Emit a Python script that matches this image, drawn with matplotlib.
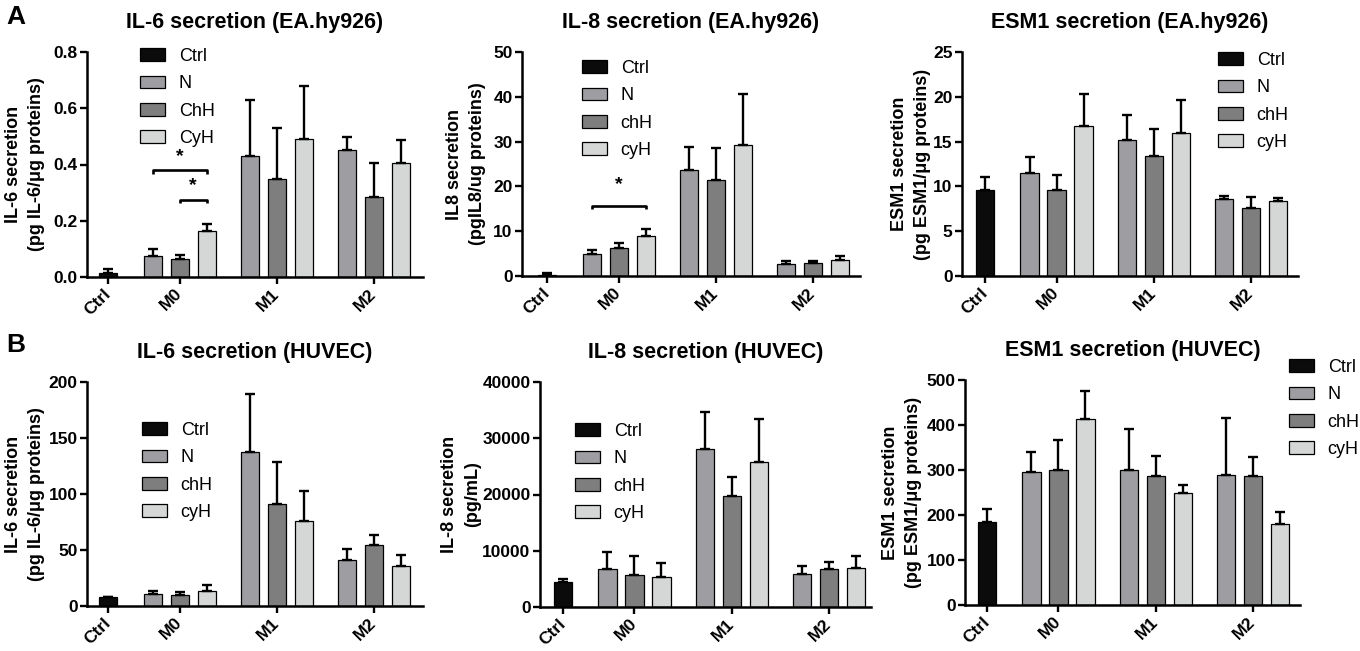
import numpy as np
import matplotlib
matplotlib.use("Agg")
import matplotlib.pyplot as plt
from matplotlib.patches import Patch

plt.rcParams["font.family"] = ["Liberation Sans", "DejaVu Sans"]
plt.rcParams["font.weight"] = "bold"

GROUPS = ["Ctrl", "M0", "M1", "M2"]
COLORS = ["#0b0b0b", "#9e9ea2", "#7e7e7e", "#d5d6d6"]

# order: Ctrl, then N / chH / cyH for M0, M1, M2
il6_ea_mean = [0.015, 0.076, 0.063, 0.162, 0.429, 0.348, 0.492, 0.450, 0.284, 0.405]
il6_ea_err = [0.012, 0.024, 0.014, 0.028, 0.200, 0.182, 0.186, 0.049, 0.120, 0.083]

il8_ea_mean = [0.3, 4.8, 6.2, 8.9, 23.6, 21.4, 29.2, 2.6, 2.8, 3.6]
il8_ea_err = [0.3, 1.1, 1.1, 1.6, 5.2, 7.1, 11.5, 0.7, 0.6, 0.9]

esm1_ea_mean = [9.6, 11.5, 9.6, 16.7, 15.2, 13.4, 16.0, 8.6, 7.6, 8.4]
esm1_ea_err = [1.5, 1.8, 1.65, 3.6, 2.8, 3.0, 3.6, 0.3, 1.2, 0.3]

il6_hu_mean = [7.7, 10.4, 9.5, 13.7, 137.6, 91.2, 75.5, 40.7, 54.4, 35.7]
il6_hu_err = [0.6, 3.3, 3.3, 5.3, 52.0, 37.0, 27.0, 10.0, 9.0, 9.8]

il8_hu_mean = [4460, 6670, 5650, 5420, 28100, 19650, 25830, 5890, 6790, 6900]
il8_hu_err = [480, 3100, 3500, 2320, 6490, 3510, 7560, 1370, 1190, 2140]

esm1_hu_mean = [185, 296, 300, 414, 300, 287, 249, 290, 287, 181]
esm1_hu_err = [29, 43, 67, 61, 91, 44, 17, 126, 42, 25]

labels_a1 = ["Ctrl", "N", "ChH", "CyH"]
labels_rest = ["Ctrl", "N", "chH", "cyH"]

# significance: (first bar index, last bar index, bracket height, star height)
il6_ea_sig = [(1, 3, 0.379, 0.398), (2, 3, 0.275, 0.294)]
il8_ea_sig = [(1, 3, 15.6, 18.6)]

W, H = 1360, 651
fig = plt.figure(figsize=(W / 100, H / 100), dpi=100)

CTRL_X = 0.0
GROUP_X = [2.65, 6.25, 9.85]
BAR_W = 0.67


def px_axes(l, t, r, b):
    return fig.add_axes([l / W, 1 - b / H, (r - l) / W, (b - t) / H])


def bar_positions():
    xs = [CTRL_X]
    for g in GROUP_X:
        xs += [g - 1, g, g + 1]
    return np.array(xs)


def panel(rect, xlim, mean, err, ymax, ystep, yfmt, title, ylab, ylab_x,
          labels, leg_xy, sig=()):
    ax = px_axes(*rect)
    xs = bar_positions()
    cols = [COLORS[0]] + COLORS[1:] * 3
    ax.bar(xs, mean, width=BAR_W, color=cols, edgecolor="black",
           linewidth=0.9, zorder=2)
    ax.errorbar(xs, mean, yerr=[np.zeros(len(err)), err], fmt="none",
                ecolor="black", elinewidth=1.7, capsize=3.8, capthick=1.7,
                zorder=3)
    ax.set_xlim(*xlim)
    ax.set_ylim(0, ymax)
    ax.set_yticks(np.arange(0, ymax + ystep / 2, ystep))
    ax.set_yticklabels([yfmt.format(v) for v in ax.get_yticks()])
    ax.set_xticks([CTRL_X] + GROUP_X)
    ax.set_xticklabels(GROUPS, rotation=45, ha="right", va="center",
                       rotation_mode="anchor")
    for s in ["top", "right"]:
        ax.spines[s].set_visible(False)
    for s in ["left", "bottom"]:
        ax.spines[s].set_linewidth(1.8)
    ax.tick_params(width=1.7, length=5.3, labelsize=12.5, pad=1.5)
    ax.tick_params(axis="x", pad=5)
    ax.set_title(title, fontsize=15.5, fontweight="bold", pad=17)

    cy = 1 - (rect[1] + rect[3]) / 2 / H
    fig.text(ylab_x / W, cy, ylab, rotation=90, ha="center", va="center",
             fontsize=13, fontweight="bold", linespacing=1.45,
             multialignment="center")

    for i0, i1, yb, ys in sig:
        x0, x1 = xs[i0], xs[i1]
        d = ymax * 0.014
        ax.plot([x0, x0, x1, x1], [yb - d, yb, yb, yb - d], color="black",
                lw=1.9, zorder=4, solid_capstyle="butt")
        ax.text((x0 + x1) / 2, ys, "*", ha="center", va="bottom",
                fontsize=14, fontweight="bold")

    handles = [Patch(facecolor=c, edgecolor="black", lw=0.9) for c in COLORS]
    ax.legend(handles, labels, loc="upper left",
              bbox_to_anchor=(leg_xy[0] / W, 1 - (leg_xy[1] - 7) / H),
              bbox_transform=fig.transFigure, frameon=False,
              prop={"size": 13, "weight": "normal"}, handlelength=1.39,
              handleheight=0.72, handletextpad=0.75, labelspacing=0.57,
              borderpad=0, borderaxespad=0)
    return ax


panel((87, 52, 423, 277), (-0.78, 11.67), il6_ea_mean, il6_ea_err, 0.8, 0.2,
      "{:.1f}", "IL-6 secretion (EA.hy926)",
      "IL-6 secretion\n(pg IL-6/μg proteins)", 25, labels_a1, (140, 55),
      il6_ea_sig)
panel((522, 52, 860, 276), (-0.93, 11.59), il8_ea_mean, il8_ea_err, 50, 10,
      "{:.0f}", "IL-8 secretion (EA.hy926)",
      "IL8 secretion\n(pgIL8/ug proteins)", 466, labels_rest, (582, 67),
      il8_ea_sig)
panel((962, 52, 1298, 276), (-0.85, 11.59), esm1_ea_mean, esm1_ea_err, 25, 5,
      "{:.0f}", "ESM1 secretion (EA.hy926)",
      "ESM1 secretion\n(pg ESM1/μg proteins)", 911, labels_rest, (1218, 59))
panel((87, 382, 423, 606), (-0.78, 11.67), il6_hu_mean, il6_hu_err, 200, 50,
      "{:.0f}", "IL-6 secretion (HUVEC)",
      "IL-6 secretion\n(pg IL-6/μg proteins)", 25, labels_rest, (142, 429))
panel((540, 382, 871, 607), (-0.85, 11.41), il8_hu_mean, il8_hu_err, 40000,
      10000, "{:.0f}", "IL-8 secretion (HUVEC)",
      "IL-8 secretion\n(pg/mL)", 461, labels_rest, (575, 430))
panel((965, 380, 1300, 605), (-0.81, 11.59), esm1_hu_mean, esm1_hu_err, 500,
      100, "{:.0f}", "ESM1 secretion (HUVEC)",
      "ESM1 secretion\n(pg ESM1/μg proteins)", 902, labels_rest, (1289, 366))

fig.text(16 / W, 1 - 17 / H, "A", fontsize=19, fontweight="bold",
         ha="center", va="center")
fig.text(16 / W, 1 - 345 / H, "B", fontsize=19, fontweight="bold",
         ha="center", va="center")

fig.savefig("out.png", dpi=100)
